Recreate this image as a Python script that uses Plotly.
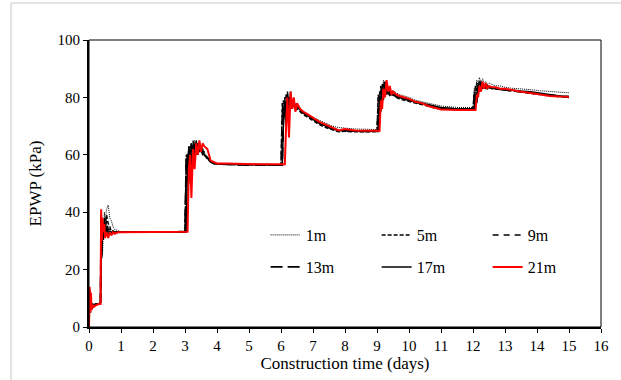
import plotly.graph_objects as go

# Shared time grid (days)
time_days = [
    0, 0.02, 0.04, 0.06, 0.08, 0.1, 0.15, 0.2, 0.3, 0.36, 0.38, 0.4, 0.42, 0.45, 0.48, 0.5, 0.55, 0.6, 0.65, 0.7,
    0.75, 0.8, 0.9, 1.0, 1.2, 1.5, 2.98,
    3.0, 3.04, 3.08, 3.12, 3.16, 3.2, 3.25, 3.3, 3.35, 3.4, 3.45, 3.5, 3.55, 3.6, 3.7, 3.8, 3.9, 4.0, 4.3, 4.7, 5.2, 5.98,
    6.0, 6.04, 6.08, 6.12, 6.16, 6.2, 6.25, 6.3, 6.35, 6.4, 6.45, 6.5, 6.6, 6.7, 6.85, 7.0, 7.2, 7.4, 7.6, 7.8, 8.0, 8.3, 8.98,
    9.0, 9.04, 9.08, 9.12, 9.16, 9.2, 9.25, 9.3, 9.35, 9.4, 9.45, 9.5, 9.6, 9.7, 9.85, 10.0, 10.2, 10.4, 10.6, 10.8, 11.0, 11.5, 11.98,
    12.0, 12.04, 12.08, 12.12, 12.16, 12.2, 12.25, 12.3, 12.35, 12.4, 12.45, 12.5, 12.6, 12.7, 12.85, 13.0, 13.2, 13.5, 13.8, 14.1, 14.4, 14.7, 15.0,
]

epwp_1m = [
    0, 10, 7, 9, 7.5, 8, 8, 8, 8, 8, 20, 30, 25, 32, 40, 37, 41, 42.5, 38, 37, 35, 34, 33.5, 33.2, 33.2, 33.2, 33.2,
    33.2, 58, 52, 62, 57, 64, 60, 65, 61, 64, 62, 63, 61, 61, 59, 58, 57.5, 57, 56.8, 56.7, 56.6, 56.6,
    56.6, 76, 72, 80, 76, 81, 78, 80, 77, 78.5, 76.5, 77, 76, 75, 74, 73, 72, 71, 70, 69.5, 69.3, 69, 68.8,
    68.8, 80, 78, 84, 81, 86, 83, 85, 82, 83, 82, 82.5, 81.5, 81, 80.5, 80, 79, 78.5, 78, 77.5, 77, 76.5, 76.5,
    76.5, 83, 81, 86, 84, 87, 85, 86.5, 85, 85.5, 84.5, 85, 84.5, 84, 84, 83.5, 83.2, 83, 82.7, 82.3, 82, 81.8, 81.6,
]
epwp_5m = [
    0, 9, 6, 8, 7, 7.5, 7.5, 8, 8, 8, 35, 24, 34, 30, 38, 35, 39, 36, 35, 33, 33.5, 33, 33.2, 33.2, 33.2, 33.2, 33.2,
    33.2, 60, 55, 63, 58, 64, 59, 64, 60, 63, 61, 62, 60, 60, 58.5, 57.5, 57, 56.8, 56.6, 56.5, 56.4, 56.4,
    56.4, 78, 73, 80, 75, 82, 77, 80, 76, 78, 75.5, 76, 75, 74, 73, 72, 70.5, 69.5, 68.7, 68, 68.2, 68, 68,
    68, 81, 78, 84, 80, 85, 82, 84, 81, 82, 80.5, 81, 80, 79.5, 79, 78.5, 78, 77.5, 76.8, 76.3, 76, 75.8, 75.8,
    75.8, 82, 80, 85, 82, 86, 83.5, 85, 83.5, 84, 83, 83.5, 83, 83, 82.8, 82.5, 82.3, 82, 81.5, 81, 80.5, 80.2, 80,
]
epwp_9m = [
    0, 11, 6, 9, 7, 8, 7.5, 8, 8, 8, 37, 27, 35, 32, 37, 34, 37, 34, 34, 33, 33, 33, 33.2, 33.2, 33.2, 33.2, 33.2,
    33.2, 56, 61, 57, 63, 59, 65, 60, 64, 61, 63, 61, 62, 60, 59, 57.8, 57.2, 56.9, 56.7, 56.6, 56.5, 56.5,
    56.5, 74, 79, 74, 81, 77, 80, 76, 79, 76, 77.5, 76.5, 75.5, 74.5, 73.5, 72.5, 71, 70, 69, 68.5, 68.5, 68.3, 68.3,
    68.3, 79, 82, 78, 85, 81, 84, 81.5, 83, 81, 81.5, 80.5, 80.2, 79.8, 79.2, 78.8, 78.2, 77.8, 77.2, 76.6, 76.2, 76, 76,
    76, 81, 84, 80, 85, 83, 85.5, 83.5, 84.5, 83.5, 84, 83.5, 83, 83, 82.8, 82.6, 82.3, 82, 81.6, 81.2, 80.8, 80.4, 80.2,
]
epwp_13m = [
    0, 13, 5, 10, 6, 8, 7, 8, 8, 8.5, 39, 26, 36, 31, 35, 33, 35, 33, 33.5, 32.5, 33, 33, 33.2, 33.2, 33.2, 33.2, 33.2,
    33.2, 59, 53, 62, 57, 64, 58, 63, 60, 64, 61, 63, 61, 61, 59, 57.6, 57, 56.8, 56.6, 56.5, 56.4, 56.4,
    56.4, 56.4, 75, 79, 72, 81, 76, 81, 76, 79, 76, 77, 75.8, 74.8, 73.8, 72.8, 71.2, 70.2, 69.2, 68.6, 68.4, 68.2, 68.2,
    68.2, 68.2, 80, 77, 83, 80, 85.5, 81.5, 83.5, 81, 82, 81, 80.5, 80, 79.5, 79, 78.3, 77.8, 77.2, 76.7, 76.2, 76, 76,
    76, 76, 81.5, 79, 84.5, 82, 85.5, 83, 84.5, 83, 84, 83.5, 83.2, 83, 82.8, 82.6, 82.3, 82, 81.7, 81.2, 80.8, 80.5, 80.2,
]
epwp_17m = [
    0, 12, 6, 10, 7, 8, 7.5, 7.8, 8, 8.5, 38, 28, 36, 34, 37, 33, 34, 32, 33.5, 32.5, 33, 33, 33, 33.2, 33.2, 33.2, 33.2,
    33.2, 33.2, 58, 50, 62, 56, 63, 58, 65, 60, 64, 61, 62, 60, 59, 57.5, 57, 56.8, 56.7, 56.6, 56.5, 56.5,
    56.5, 56.5, 72, 78, 70, 81, 75, 82, 77, 79, 76, 77, 75.5, 74.5, 73.5, 72.5, 71, 70, 69, 68.5, 68.3, 68.2, 68.2,
    68.2, 68.2, 78, 75, 82, 79, 85, 81, 83, 80.5, 82, 81, 80.5, 80, 79.5, 79, 78.5, 78, 77.5, 77, 76.5, 76, 76,
    76, 76, 80, 78, 84, 82, 85, 83, 84.5, 83, 84, 83.5, 83.5, 83, 83, 82.8, 82.5, 82.2, 82, 81.5, 81, 80.5, 80.3,
]
epwp_21m = [
    0, 14, 5, 12, 6, 8, 7, 7.5, 8, 8, 41, 30, 38, 33, 36, 31, 33, 31, 33, 32, 33, 32.5, 33, 33, 33.2, 33.2, 33.2,
    33.2, 33.2, 33.2, 55, 60, 45, 62, 55, 64, 60, 65, 61, 64, 63, 62, 58, 57.5, 57, 57, 56.8, 56.7, 56.7,
    56.7, 56.7, 56.7, 56.7, 70, 80, 66, 82, 76, 80, 75, 78, 76, 75, 74, 73, 71.5, 70.5, 69.5, 68.5, 69, 68.5, 68.4,
    68.4, 68.4, 68.4, 79, 76, 83, 80, 86, 82, 84, 81, 82, 81, 80.5, 80, 79.5, 78.5, 78, 77, 76.3, 75.8, 75.6, 75.6,
    75.6, 75.6, 75.6, 81, 80, 84, 82, 85.5, 83, 85, 83, 84, 83.5, 83.5, 83, 83, 82.5, 82, 81.5, 81, 80.5, 80.3, 80.2,
]

series_names = ["1m", "5m", "9m", "13m", "17m", "21m"]
series_values = [epwp_1m, epwp_5m, epwp_9m, epwp_13m, epwp_17m, epwp_21m]
series_colors = ["black", "black", "black", "black", "black", "#ff0000"]
series_dash = ["1px,1px", "4px,2px", "6px,5px", "12px,5px", "solid", "solid"]
series_width = [1, 1.5, 1.5, 1.8, 1.5, 2]
series_legend = ["legend", "legend", "legend", "legend2", "legend2", "legend2"]

x_ticks = list(range(0, 17))
y_ticks = [0, 20, 40, 60, 80, 100]

FONT = "Liberation Serif"

fig = go.Figure()
for name, vals, col, dash, w, lg in zip(series_names, series_values, series_colors,
                                        series_dash, series_width, series_legend):
    fig.add_trace(go.Scatter(
        x=time_days, y=vals, mode="lines", name=name,
        line=dict(color=col, dash=dash, width=w),
        legend=lg,
    ))

legend_common = dict(
    orientation="h", entrywidth=66, entrywidthmode="pixels",
    bgcolor="rgba(0,0,0,0)", font=dict(family=FONT, size=16, color="black"),
    xanchor="left", yanchor="middle", x=0.345, borderwidth=0,
)

fig.update_layout(
    width=621, height=380,
    margin=dict(l=89, r=20, t=40, b=53),
    paper_bgcolor="white", plot_bgcolor="white",
    font=dict(family=FONT, size=15, color="black"),
    legend=dict(**legend_common, y=0.3206),
    legend2=dict(**legend_common, y=0.209),
    xaxis=dict(
        range=[0, 16], tickvals=x_ticks, ticks="outside", ticklen=4, tickwidth=1,
        tickcolor="black", showline=True, linecolor="black", linewidth=2,
        showgrid=False, zeroline=False,
        title=dict(text="Construction time (days)", font=dict(family=FONT, size=17), standoff=3),
        tickfont=dict(family=FONT, size=15),
    ),
    yaxis=dict(
        range=[0, 100], tickvals=y_ticks, ticks="outside", ticklen=4, tickwidth=1,
        tickcolor="black", showline=True, linecolor="black", linewidth=2,
        showgrid=False, zeroline=False,
        title=dict(text="EPWP (kPa)", font=dict(family=FONT, size=17), standoff=12),
        tickfont=dict(family=FONT, size=15),
    ),
    shapes=[
        dict(type="rect", xref="paper", yref="paper", x0=0, y0=0, x1=1, y1=1,
             line=dict(color="black", width=1), layer="above"),
        dict(type="rect", xref="paper", yref="paper", x0=-0.1523, y0=-0.4, x1=1.3, y1=1.129,
             line=dict(color="#c8c8c8", width=1), layer="below"),
    ],
    showlegend=True,
)

fig.write_html("out.html")
